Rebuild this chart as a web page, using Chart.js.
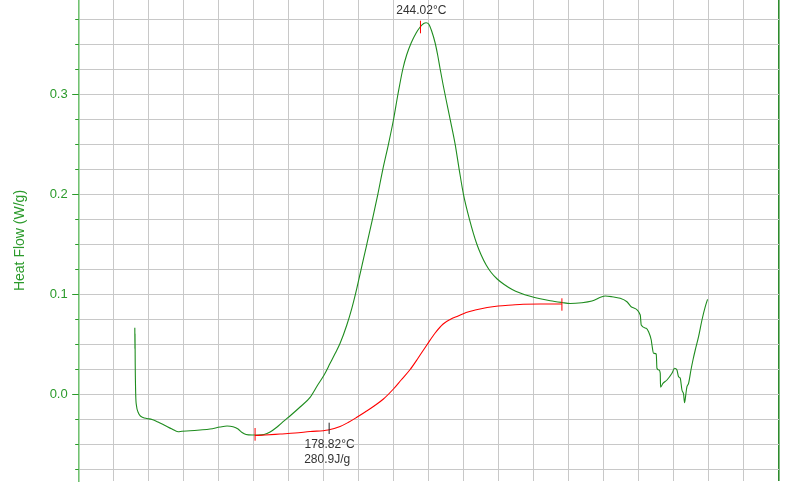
<!DOCTYPE html>
<html>
<head>
<meta charset="utf-8">
<title>Heat Flow</title>
<script src="https://cdn.jsdelivr.net/npm/chart.js@4.4.1/dist/chart.umd.min.js"></script>
<style>
    html, body { margin: 0; padding: 0; background: #fff; }
    canvas { display: block; }
</style>
</head>
<body>
<canvas id="dscChart" width="800" height="493"></canvas>
<script>
// heat flow curve (°C, W/g)
const curveTemp = [
    40.07, 40.15, 40.2, 40.35, 40.71, 41.29, 42.36, 43.79, 45.93, 48.79, 52.36, 56.64, 61.64, 66.64, 70.93,
    73.79, 79.5, 86.64, 93.79, 100.93, 105.93, 110.21, 113.79, 116.64, 119.5, 123.79, 128.07, 132.36, 136.64,
    141.64, 145.93, 151.64, 158.07, 165.21, 170.21, 175.21, 179.5, 183.07, 186.64, 191.43, 195.0, 198.57,
    201.64, 205.71, 209.71, 213.57, 217.14, 221.14, 224.71, 227.71, 231.43, 234.14, 237.36, 240.93, 243.79,
    246.29, 248.07, 249.86, 252.0, 254.5, 256.29, 258.07, 260.21, 262.36, 265.21, 268.79, 271.64, 274.71,
    279.0, 284.29, 287.36, 290.93, 294.5, 298.79, 303.79, 309.5, 315.21, 322.36, 329.5, 336.64, 345.0,
    350.93, 359.29, 366.43, 375.93, 380.71, 386.64, 391.43, 395.0, 400.93, 401.64, 405.21, 406.86, 408.79,
    409.29, 410.43, 412.36, 412.86, 414.29, 415.21, 415.43, 417.14, 420.0, 423.57, 425.43, 427.14, 428.29,
    429.5, 430.71, 431.86, 432.57, 433.57, 434.29, 435.43, 437.14, 438.57, 440.21, 442.57, 445.0, 447.36, 449.0
];
const curveFlow = [
    0.0666, 0.0455, 0.0600, 0.0300, -0.0007, -0.0117, -0.0177, -0.0214, -0.0232, -0.0242, -0.0252, -0.0277, -0.0312, -0.0347, -0.0374,
    -0.0369, -0.0365, -0.0357, -0.0347, -0.0327, -0.0317, -0.0325, -0.0347, -0.0382, -0.0402, -0.0407, -0.0407, -0.0402, -0.0377,
    -0.0327, -0.0274, -0.0207, -0.0127, -0.003, 0.0083, 0.0193, 0.031, 0.0408, 0.051, 0.0693, 0.086, 0.106,
    0.125, 0.15, 0.175, 0.2, 0.225, 0.25, 0.2743, 0.2983, 0.3253, 0.3393, 0.3513, 0.3613, 0.3673,
    0.3708, 0.3716, 0.3703, 0.3633, 0.3513, 0.3393, 0.3253, 0.3093, 0.2943, 0.275, 0.25, 0.225, 0.2,
    0.175, 0.15, 0.1393, 0.1293, 0.1218, 0.1153, 0.1098, 0.1048, 0.1013, 0.098, 0.0955, 0.0935, 0.0918,
    0.0908, 0.0916, 0.0933, 0.0983, 0.0976, 0.096, 0.0926, 0.087, 0.0793, 0.0693, 0.066, 0.0626, 0.0543,
    0.0493, 0.041, 0.0403, 0.026, 0.0243, 0.021, 0.007, 0.011, 0.0143, 0.021, 0.026, 0.0243, 0.0176,
    0.016, 0.0043, 0.0003, -0.0084, 0.001, 0.0076, 0.011, 0.0243, 0.0343, 0.0443, 0.0576, 0.0743, 0.0876, 0.095
];

// integration baseline
const baseTemp = [
    125.93, 133.07, 143.79, 154.5, 165.21, 178.07, 186.64, 192.36, 198.57, 204.5, 210.93, 217.57, 224.71,
    230.21, 236.64, 242.36, 248.57, 254.5, 260.21, 265.21, 270.93, 276.64, 283.07, 291.64, 299.5, 309.5,
    317.36, 329.5, 345.0
];
const baseFlow = [
    -0.0412, -0.0407, -0.0397, -0.0387, -0.0372, -0.0357, -0.0322, -0.0282, -0.023, -0.0177, -0.0117, -0.0047, 0.0053,
    0.0143, 0.0248, 0.0363, 0.0493, 0.0613, 0.0703, 0.0748, 0.0783, 0.0818, 0.0843, 0.0868, 0.0883, 0.0893,
    0.09, 0.0903, 0.0903
];

// analysis markers: temperature, bottom, top
const redMarkTemp = [125.93, 244.02, 345.0];
const redMarkLow = [-0.0464, 0.361, 0.0836];
const redMarkHigh = [-0.0337, 0.3736, 0.096];
const onsetMarkTemp = [178.82];
const onsetMarkLow = [-0.0397];
const onsetMarkHigh = [-0.0284];

// annotations: text, temperature, heat flow, align
const noteText = ['244.02°C', '178.82°C', '280.9J/g'];
const noteTemp = [244.6, 161.2, 161.0];
const noteFlow = [0.3833, -0.0507, -0.0657];
const noteAlign = ['center', 'left', 'left'];

const yTickValues = [-0.075, -0.05, -0.025, 0, 0.025, 0.05, 0.075, 0.1, 0.125, 0.15, 0.175,
    0.2, 0.225, 0.25, 0.275, 0.3, 0.325, 0.35, 0.375];
const xTicksStep = 25;

const GREEN = '#2b9a2b';
const CURVE = '#1e8c1e';
const GRID = '#c8c8c8';

const toPoints = (xs, ys) => xs.map((x, i) => ({ x, y: ys[i] }));
const markerSets = (temps, lows, highs, color) => temps.map((t, i) => ({
    data: [{ x: t, y: lows[i] }, { x: t, y: highs[i] }],
    borderColor: color, borderWidth: 1, pointRadius: 0, order: 1
}));

const isMajor = v => Math.abs(v * 10 - Math.round(v * 10)) < 1e-6;

const axisTicksPlugin = {
    id: 'axisTicks',
    afterDraw(chart) {
        const { ctx, chartArea, scales } = chart;
        ctx.save();
        ctx.strokeStyle = GREEN;
        ctx.lineWidth = 1;
        scales.y.ticks.forEach(t => {
            const y = Math.round(scales.y.getPixelForValue(t.value)) + 0.5;
            const len = isMajor(t.value) ? 6.5 : 3.5;
            ctx.beginPath();
            ctx.moveTo(chartArea.left - len, y);
            ctx.lineTo(chartArea.left, y);
            ctx.stroke();
        });
        ctx.restore();
    }
};

const notesPlugin = {
    id: 'notes',
    afterDatasetsDraw(chart) {
        const { ctx, scales } = chart;
        ctx.save();
        ctx.font = '12px "Liberation Sans", Arial, sans-serif';
        ctx.fillStyle = '#333';
        ctx.textBaseline = 'middle';
        noteText.forEach((txt, i) => {
            ctx.textAlign = noteAlign[i];
            ctx.fillText(txt, scales.x.getPixelForValue(noteTemp[i]), scales.y.getPixelForValue(noteFlow[i]));
        });
        ctx.restore();
    }
};

new Chart(document.getElementById('dscChart'), {
    type: 'line',
    data: {
        datasets: [
            {
                data: toPoints(curveTemp, curveFlow), borderColor: CURVE, borderWidth: 1.1, pointRadius: 0, order: 3,
                cubicInterpolationMode: 'monotone'
            },
            {
                data: toPoints(baseTemp, baseFlow), borderColor: '#ff0000', borderWidth: 1.1, pointRadius: 0, order: 2,
                cubicInterpolationMode: 'monotone'
            },
            ...markerSets(redMarkTemp, redMarkLow, redMarkHigh, '#ff0000'),
            ...markerSets(onsetMarkTemp, onsetMarkLow, onsetMarkHigh, '#222')
        ]
    },
    options: {
        responsive: false,
        animation: false,
        devicePixelRatio: 1,
        layout: { padding: { top: 0, right: 21, bottom: 12, left: 0 } },
        plugins: { legend: { display: false }, tooltip: { enabled: false } },
        scales: {
            x: {
                type: 'linear',
                min: 0,
                max: 500,
                bounds: 'data',
                ticks: { display: false, stepSize: xTicksStep },
                grid: {
                    drawTicks: false,
                    color: ctx => ctx.tick.value === 500 ? '#2e8b2e' : (ctx.tick.value === 0 ? 'rgba(0,0,0,0)' : GRID),
                    lineWidth: ctx => ctx.tick.value === 500 ? 1.6 : 1
                },
                border: { display: false }
            },
            y: {
                type: 'linear',
                min: -0.0867,
                max: 0.3943,
                bounds: 'data',
                afterBuildTicks(scale) {
                    scale.ticks = yTickValues.map(v => ({ value: v }));
                },
                ticks: {
                    color: GREEN,
                    padding: 5,
                    autoSkip: false,
                    font: { size: 13, family: '"Liberation Sans", Arial, sans-serif' },
                    callback: v => isMajor(v) ? v.toFixed(1) : ''
                },
                grid: { color: GRID, lineWidth: 1, tickLength: 6, tickColor: 'rgba(0,0,0,0)' },
                border: { color: '#72c272', width: 1.6 },
                title: {
                    display: true,
                    text: 'Heat Flow (W/g)',
                    color: GREEN,
                    padding: { top: 12, bottom: 0 },
                    font: { size: 14, family: '"Liberation Sans", Arial, sans-serif' }
                },
                afterFit(scale) {
                    scale.width = 78.7;
                    scale.paddingTop = 0;
                    scale.paddingBottom = 0;
                }
            }
        }
    },
    plugins: [axisTicksPlugin, notesPlugin]
});
</script>
</body>
</html>
